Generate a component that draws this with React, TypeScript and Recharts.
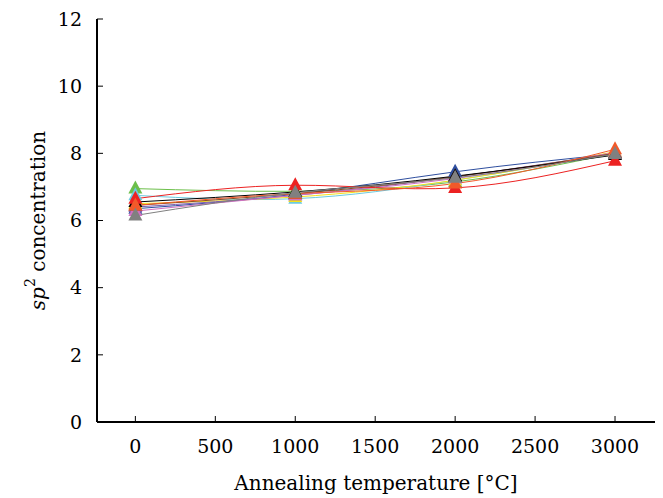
import React from 'react';
import { LineChart, Line, XAxis, YAxis } from 'recharts';

const temps = [0, 1000, 2000, 3000];
const xTicks = [0, 500, 1000, 1500, 2000, 2500, 3000];
const yTicks = [0, 2, 4, 6, 8, 10, 12];

const green = [6.95, 6.87, 7.15, 8.0];
const cyan = [6.75, 6.65, 7.2, 8.0];
const yellow = [6.5, 6.7, 7.2, 8.05];
const blue = [6.35, 6.78, 7.45, 7.98];
const purple = [6.4, 6.75, 7.3, 8.0];
const magenta = [6.28, 6.75, 7.25, 8.03];
const brown = [6.45, 6.8, 7.3, 8.0];
const black = [6.55, 6.85, 7.32, 7.95];
const red = [6.65, 7.05, 6.97, 7.78];
const orange = [6.45, 6.8, 7.1, 8.12];
const gray = [6.15, 6.83, 7.27, 7.98];

const series = [
  { key: 'green', values: green, color: '#6cbf4a' },
  { key: 'cyan', values: cyan, color: '#6ccae0' },
  { key: 'yellow', values: yellow, color: '#f4e21c' },
  { key: 'blue', values: blue, color: '#2f4f9f' },
  { key: 'purple', values: purple, color: '#7f5fb0' },
  { key: 'magenta', values: magenta, color: '#d070c0' },
  { key: 'brown', values: brown, color: '#8a4a22' },
  { key: 'black', values: black, color: '#000000' },
  { key: 'red', values: red, color: '#ec2222' },
  { key: 'orange', values: orange, color: '#f2592a' },
  { key: 'gray', values: gray, color: '#808080' },
];

const data = temps.map((t, i) => {
  const row: any = { t };
  series.forEach((s) => {
    row[s.key] = s.values[i];
  });
  return row;
});

const font = "'DejaVu Serif', serif";
const axisLine = { stroke: '#000', strokeWidth: 2 };

const Triangle = (props: any) => {
  const { cx, cy, fill } = props;
  if (cx == null || cy == null) return null;
  return (
    <polygon
      points={`${cx},${cy - 8} ${cx - 7},${cy + 5} ${cx + 7},${cy + 5}`}
      fill={fill}
    />
  );
};

const YLabel = (props: any) => {
  const { viewBox } = props;
  const cx = 38;
  const cy = viewBox.y + viewBox.height / 2;
  return (
    <text
      x={cx}
      y={cy}
      transform={`rotate(-90, ${cx}, ${cy})`}
      textAnchor="middle"
      dominantBaseline="central"
      fontFamily={font}
      fontSize={20}
      fill="#000"
    >
      <tspan fontStyle="italic">sp</tspan>
      <tspan dy={-8} fontSize={14}>2</tspan>
      <tspan dy={8}> concentration</tspan>
    </text>
  );
};

export default function App() {
  return (
    <div style={{ position: 'absolute', left: 0, top: 0, background: '#fff' }}>
      <LineChart
        width={663}
        height={498}
        data={data}
        margin={{ top: 19, right: 8, left: 37, bottom: 0 }}
      >
        <XAxis
          dataKey="t"
          type="number"
          domain={[-240, 3250]}
          ticks={xTicks}
          allowDataOverflow
          height={76}
          axisLine={axisLine}
          tickLine={{ stroke: '#000' }}
          tickSize={-6}
          tickMargin={24}
          tick={{ fill: '#000', fontSize: 19, fontFamily: font }}
          label={{
            value: 'Annealing temperature [°C]',
            position: 'insideBottom',
            offset: 8,
            fill: '#000',
            fontSize: 20,
            fontFamily: font,
          }}
        />
        <XAxis
          xAxisId="top"
          orientation="top"
          dataKey="t"
          type="number"
          domain={[-240, 3250]}
          height={0}
          tick={false}
          tickLine={false}
          axisLine={axisLine}
        />
        <YAxis
          type="number"
          domain={[0, 12]}
          ticks={yTicks}
          width={60}
          axisLine={axisLine}
          tickLine={{ stroke: '#000' }}
          tickSize={-6}
          tickMargin={21}
          tick={{ fill: '#000', fontSize: 19, fontFamily: font }}
          label={<YLabel />}
        />
        <YAxis
          yAxisId="right"
          orientation="right"
          domain={[0, 12]}
          width={0}
          tick={false}
          tickLine={false}
          axisLine={axisLine}
        />
        {series.map((s) => (
          <Line
            key={s.key}
            dataKey={s.key}
            type="natural"
            stroke={s.color}
            strokeWidth={1}
            dot={<Triangle fill={s.color} />}
            activeDot={false}
            isAnimationActive={false}
          />
        ))}
      </LineChart>
    </div>
  );
}
